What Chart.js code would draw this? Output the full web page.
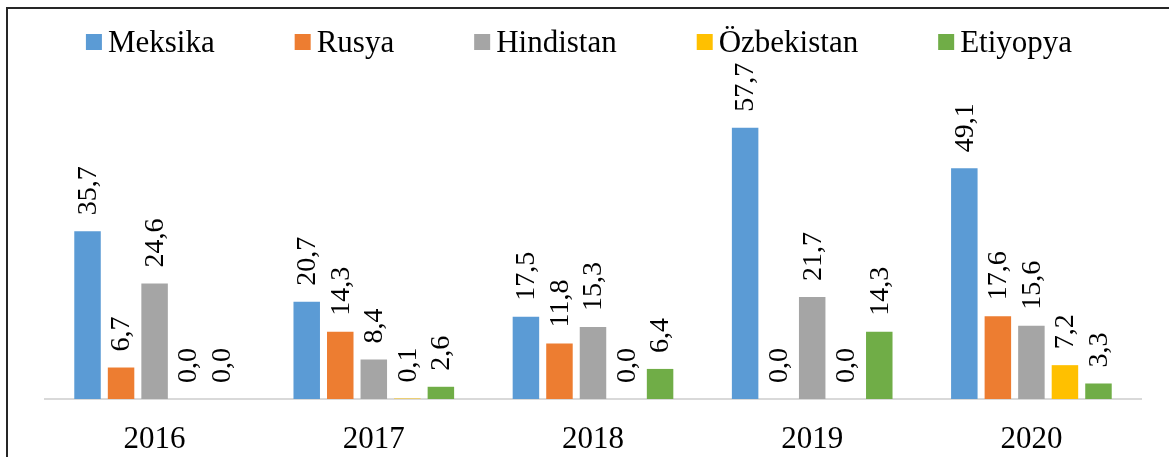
<!DOCTYPE html>
<html>
<head>
<meta charset="utf-8">
<script src="https://cdn.jsdelivr.net/npm/chart.js@4.4.1/dist/chart.umd.min.js"></script>
<style>
  html, body { margin: 0; padding: 0; background: #fff; }
  #wrap { position: relative; width: 1169px; height: 457px; overflow: hidden; }
  #frame { position: absolute; left: 6px; top: 7px; width: 1200px; height: 500px;
           border-left: 2px solid #262626; border-top: 2px solid #262626; }
  #chart { position: absolute; left: 0; top: 0; }
</style>
</head>
<body>
<div id="wrap">
  <div id="frame"></div>
  <canvas id="chart" width="1169" height="457"></canvas>
</div>
<script>
/* yıllar ve ülke serileri (%) */
var years = ['2016', '2017', '2018', '2019', '2020'];
var seriesNames = ['Meksika', 'Rusya', 'Hindistan', 'Özbekistan', 'Etiyopya'];
var seriesColors = ['#5B9BD5', '#ED7D31', '#A5A5A5', '#FFC000', '#70AD47'];
var meksika = [35.7, 20.7, 17.5, 57.7, 49.1];
var rusya = [6.7, 14.3, 11.8, 0.0, 17.6];
var hindistan = [24.6, 8.4, 15.3, 21.7, 15.6];
var ozbekistan = [0.0, 0.1, 0.0, 0.0, 7.2];
var etiyopya = [0.0, 2.6, 6.4, 14.3, 3.3];
var seriesValues = [meksika, rusya, hindistan, ozbekistan, etiyopya];

var SERIF = '"Liberation Serif", "Times New Roman", serif';

function fmt(v) { return v.toFixed(1).replace('.', ','); }

/* dikey (90° döndürülmüş) değer etiketleri */
var valueLabels = {
  id: 'valueLabels',
  afterDatasetsDraw: function (chart) {
    var ctx = chart.ctx;
    ctx.save();
    ctx.fillStyle = '#000';
    ctx.font = '28px ' + SERIF;
    ctx.textAlign = 'left';
    ctx.textBaseline = 'middle';
    chart.data.datasets.forEach(function (ds, i) {
      chart.getDatasetMeta(i).data.forEach(function (bar, j) {
        ctx.save();
        ctx.translate(bar.x + 1, bar.y - 16);
        ctx.rotate(-Math.PI / 2);
        ctx.fillText(fmt(ds.data[j]), 0, 0);
        ctx.restore();
      });
    });
    ctx.restore();
  }
};

/* üstteki gösterge: kare + ülke adı */
var topLegend = {
  id: 'topLegend',
  afterDraw: function (chart) {
    var ctx = chart.ctx;
    var box = 16, gap = 6, space = 80, cy = 42, center = 579;
    ctx.save();
    ctx.font = '31px ' + SERIF;
    ctx.textBaseline = 'middle';
    ctx.textAlign = 'left';
    var items = chart.data.datasets.map(function (ds) {
      return { text: ds.label, color: ds.backgroundColor, w: box + gap + ctx.measureText(ds.label).width };
    });
    var total = items.reduce(function (s, it) { return s + it.w; }, 0) + space * (items.length - 1);
    var x = center - total / 2;
    items.forEach(function (it) {
      ctx.fillStyle = it.color;
      ctx.fillRect(x, cy - box / 2, box, box);
      ctx.fillStyle = '#000';
      ctx.fillText(it.text, x + box + gap, cy + 2);
      x += it.w + space;
    });
    ctx.restore();
  }
};

var datasets = seriesNames.map(function (name, i) {
  return {
    label: name,
    data: seriesValues[i],
    backgroundColor: seriesColors[i],
    borderWidth: 0,
    categoryPercentage: 0.765,
    barPercentage: 0.79
  };
});

new Chart(document.getElementById('chart').getContext('2d'), {
  type: 'bar',
  data: { labels: years, datasets: datasets },
  options: {
    responsive: false,
    animation: false,
    layout: { padding: { top: 70, left: 45, right: 28, bottom: 2 } },
    plugins: { legend: { display: false }, tooltip: { enabled: false } },
    scales: {
      x: {
        grid: { display: false, drawTicks: false },
        border: { display: true, color: '#d9d9d9', width: 2 },
        ticks: { color: '#000', font: { family: SERIF, size: 31 }, padding: 22 },
        afterFit: function (scale) { scale.height = 56; }
      },
      y: { display: false, min: 0, max: 70 }
    }
  },
  plugins: [valueLabels, topLegend]
});
</script>
</body>
</html>
